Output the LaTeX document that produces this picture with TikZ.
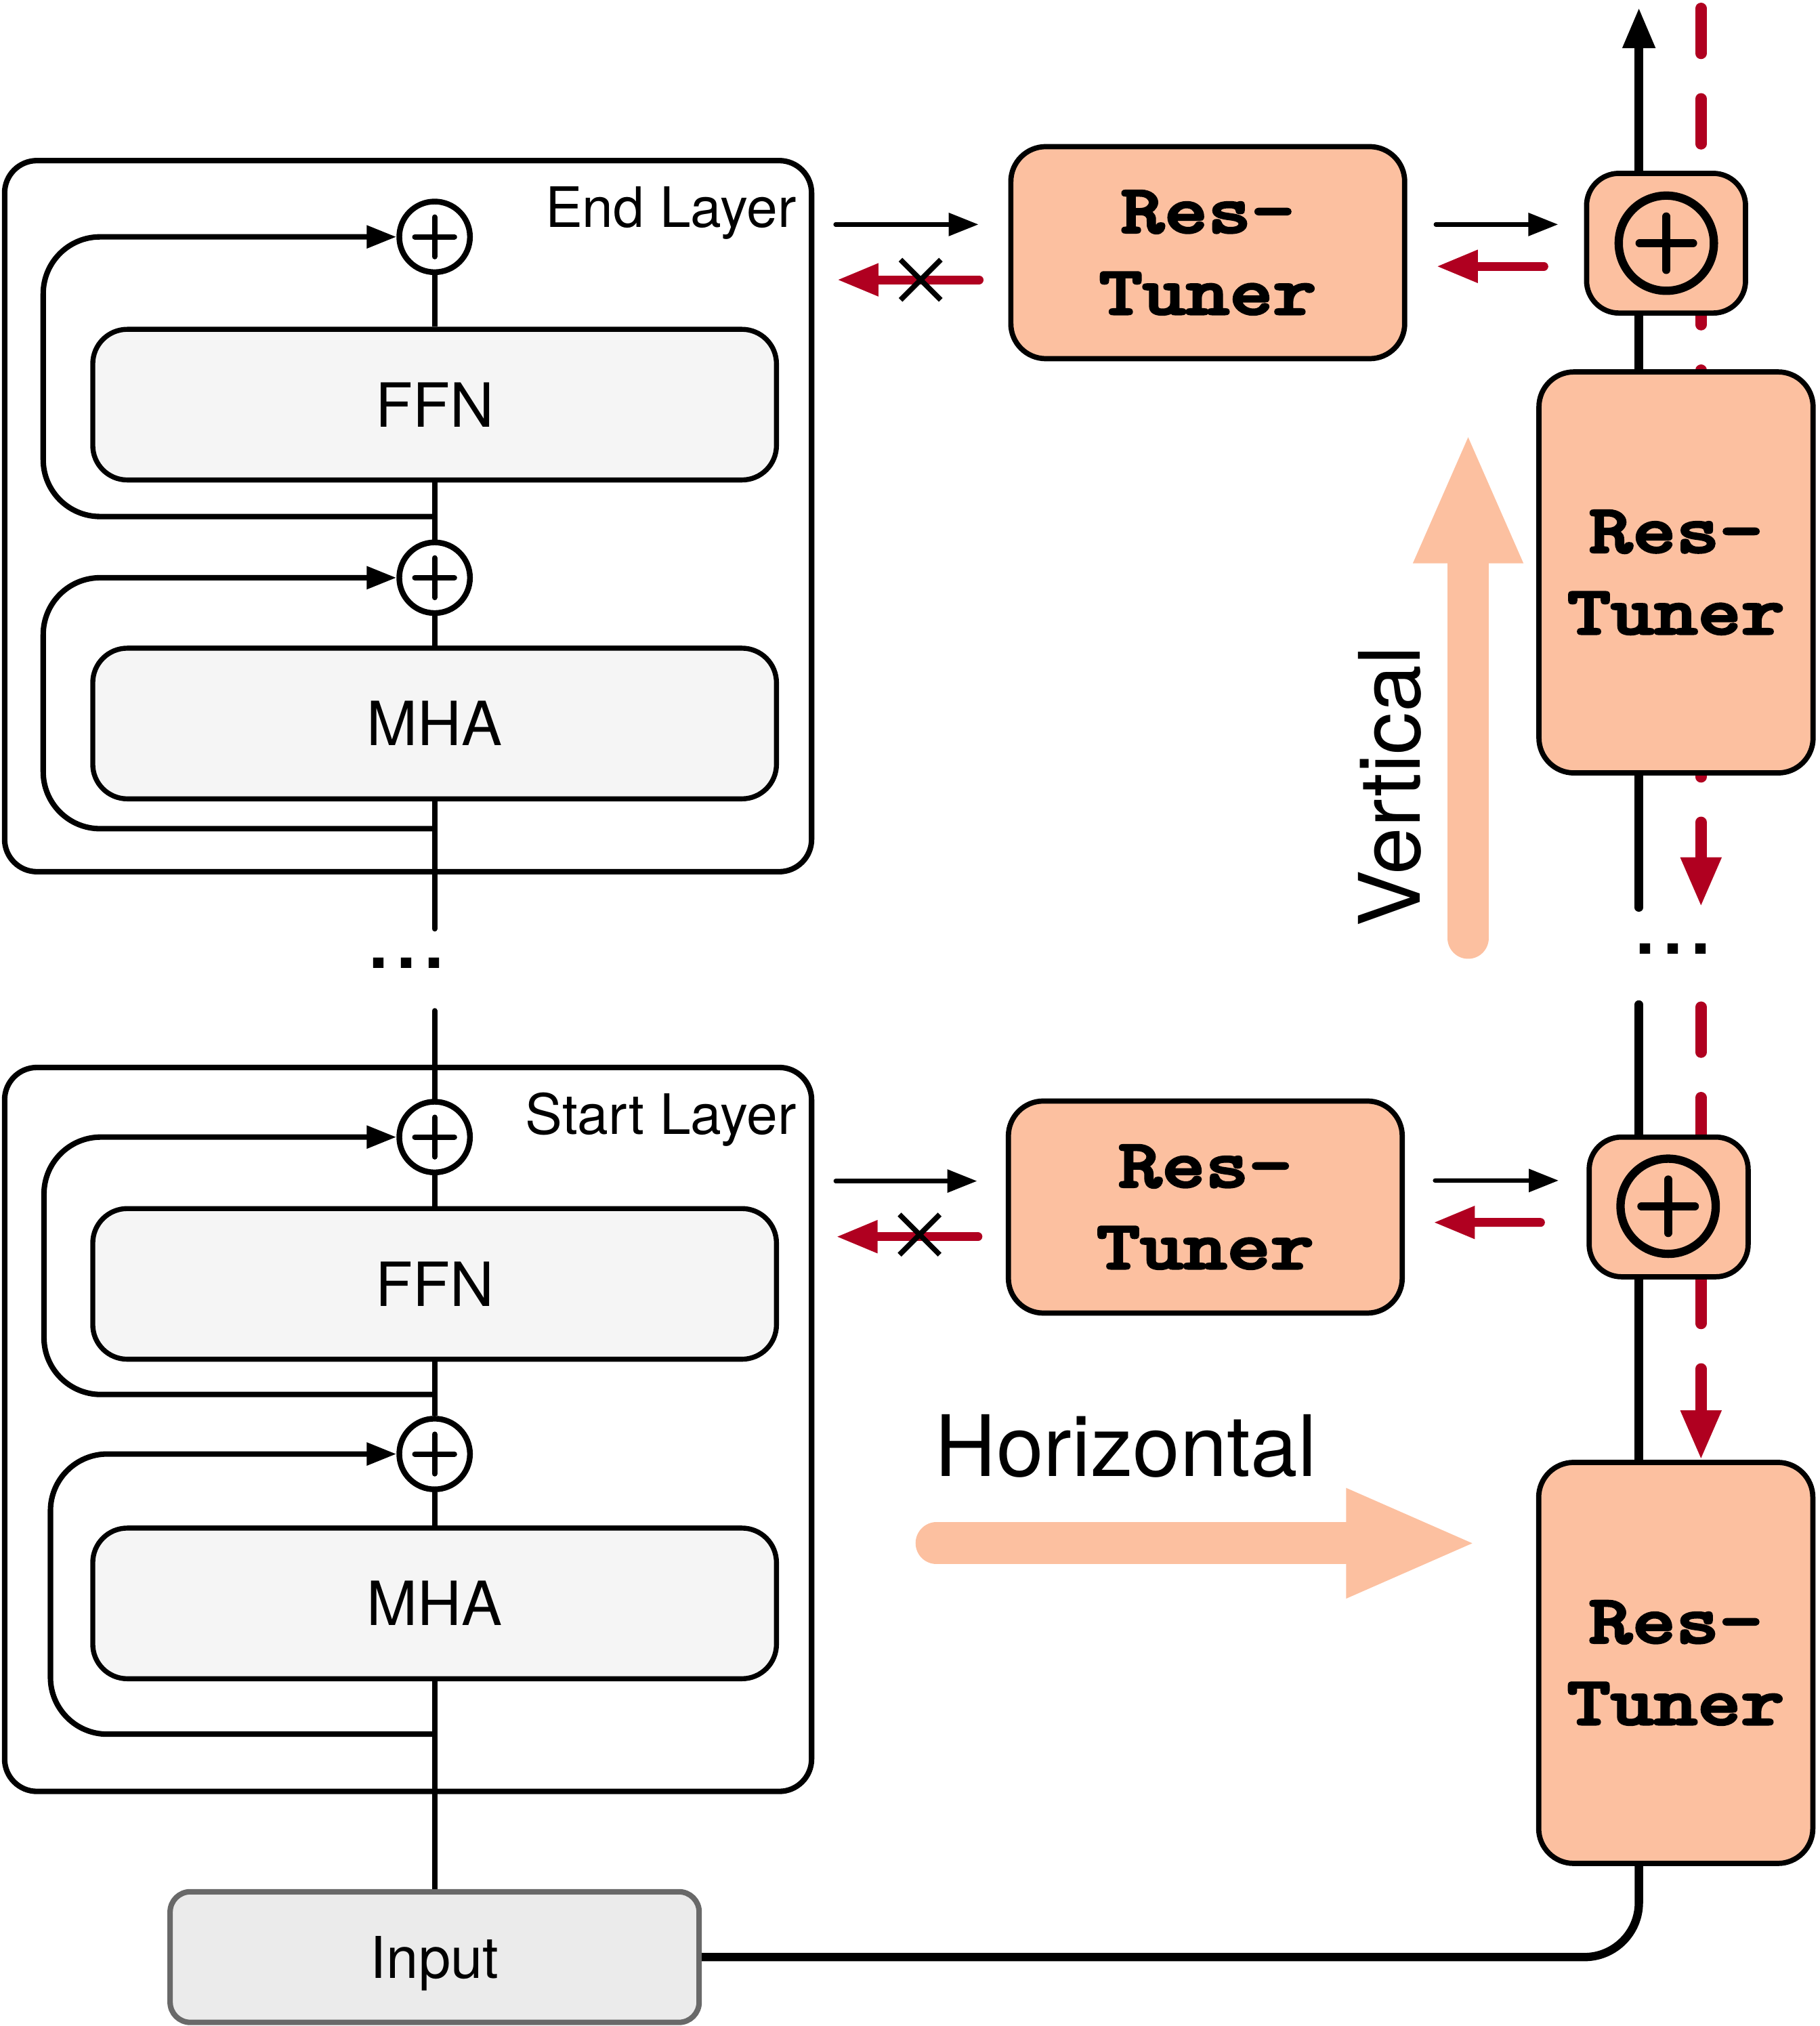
\documentclass[tikz,border=0pt]{standalone}
\usepackage{fontspec}
\setmainfont{TeX Gyre Heros}
\newfontfamily\rtfont[FakeBold=3]{lmmonolt10-bold.otf}
\usetikzlibrary{arrows.meta,shapes.misc,calc,backgrounds}

\definecolor{peach}{RGB}{252,192,160}
\definecolor{bwred}{RGB}{176,0,32}
\definecolor{blockfill}{RGB}{245,245,245}
\definecolor{inputfill}{RGB}{235,235,235}
\definecolor{inputedge}{RGB}{105,105,105}

\newcommand{\restuner}{\scalebox{1.2}[1]{Res-}\\\scalebox{1.2}[1]{Tuner}}

\tikzset{
  layerbox/.style={draw, line width=2.3pt, rounded corners=13.6pt, minimum width=339.1pt, inner sep=0pt},
  lbl/.style={inner sep=0pt, font=\fontsize{23.4}{28}\selectfont},
  block/.style={draw, line width=2.1pt, fill=blockfill, rounded corners=14.5pt, minimum width=287.3pt,
    minimum height=63.3pt, inner sep=0pt, font=\fontsize{25.6}{30}\selectfont},
  inputbox/.style={draw=inputedge, line width=2.3pt, fill=inputfill, rounded corners=8.5pt, minimum width=222.3pt,
    minimum height=54.9pt, inner sep=0pt, text depth=0pt, font=\fontsize{24.2}{29}\selectfont},
  addnode/.style={circle, draw, line width=2.4pt, fill=white, minimum size=29.7pt, inner sep=0pt,
    path picture={\draw[line width=2.3pt, line cap=round]
      ([xshift=-8.3pt]path picture bounding box.center) -- ([xshift=8.3pt]path picture bounding box.center)
      ([yshift=-8.3pt]path picture bounding box.center) -- ([yshift=8.3pt]path picture bounding box.center);}},
  tuner/.style={draw, line width=2.2pt, fill=peach, rounded corners=14.7pt, inner sep=0pt, align=center,
    font=\fontsize{29}{34.3}\selectfont\rtfont},
  sumbox/.style={draw, line width=2.2pt, fill=peach, rounded corners=13.6pt, minimum width=66.8pt,
    minimum height=58.7pt, inner sep=0pt},
  bigadd/.style={circle, draw, line width=3.5pt, minimum size=40pt, inner sep=0pt,
    path picture={\draw[line width=3.5pt, line cap=round]
      ([xshift=-11.2pt]path picture bounding box.center) -- ([xshift=11.2pt]path picture bounding box.center)
      ([yshift=-11.2pt]path picture bounding box.center) -- ([yshift=11.2pt]path picture bounding box.center);}},
  trunk/.style={line width=2.3pt},
  skip/.style={line width=2.3pt, rounded corners=23.9pt, -{Triangle[length=12.5pt,width=9.2pt]}},
  fwd/.style={line width=1.8pt, line cap=round, -{Triangle[length=12.5pt,width=9.4pt]}},
  bwd/.style={bwred, line width=3.7pt, line cap=round, -{Triangle[length=17.4pt,width=12.9pt]}},
  blocked/.style={cross out, draw, line width=2.2pt, minimum size=14.7pt, inner sep=0pt},
  spine/.style={line width=3.5pt},
  gradflow/.style={bwred, line width=4.7pt, line cap=round, dash pattern=on 19pt off 19pt,
    -{Triangle[length=20.8pt,width=16pt]}},
  bigarrow/.style={peach, line width=17.6pt, line cap=round, -{Triangle[length=55.4pt,width=41.8pt]}},
  dots/.style={inner sep=0pt, font=\fontsize{42}{42}\selectfont}
}

\begin{document}
\begin{tikzpicture}[x=0.0191cm, y=-0.0191cm]
  \useasboundingbox (0,0) rectangle (1407,1566.2);

  % backbone layers
  \node[layerbox, minimum height=298.8pt] (endL) at (315.5,399) {};
  \node[layerbox, minimum height=304.2pt] (startL) at (315.5,1105) {};
  \node[lbl, anchor=base east] (endT) at (616,175.8) {End Layer};
  \node[lbl, anchor=base east] (startT) at (616,876.8) {Start Layer};

  \node[block] (ffnA) at (336,312.8) {FFN};
  \node[block] (mhaA) at (336,559.3) {MHA};
  \node[block] (ffnB) at (336,992.5) {FFN};
  \node[block] (mhaB) at (336,1239.5) {MHA};
  \node[addnode] (addA1) at (336,183.1) {};
  \node[addnode] (addA2) at (336,446.6) {};
  \node[addnode] (addB1) at (336,879) {};
  \node[addnode] (addB2) at (336,1124) {};
  \node[inputbox] (input) at (336,1512.9) {Input};
  \node[dots] (dotsL) at (314.3,744.5) {...};

  \coordinate (tapA1) at (336,399.3);
  \coordinate (tapA2) at (336,640.6);
  \coordinate (tapB1) at (336,1078);
  \coordinate (tapB2) at (336,1340.6);
  \coordinate (cutA) at (336,718);
  \coordinate (cutB) at (336,781.4);

  \draw[trunk] (input.north) -- (mhaB.south);
  \draw[trunk] (mhaB.north) -- (addB2.south);
  \draw[trunk] (addB2.north) -- (ffnB.south);
  \draw[trunk] (ffnB.north) -- (addB1.south);
  \draw[trunk, line cap=round] (addB1.north) -- (cutB);
  \draw[trunk, line cap=round] (mhaA.south) -- (cutA);
  \draw[trunk] (mhaA.north) -- (addA2.south);
  \draw[trunk] (addA2.north) -- (ffnA.south);
  \draw[trunk] (ffnA.north) -- (addA1.south);

  \draw[skip] (tapA1) -| (33.4,183.1) -- (addA1.west);
  \draw[skip] (tapA2) -| (33.4,446.6) -- (addA2.west);
  \draw[skip] (tapB1) -| (34,879) -- (addB1.west);
  \draw[skip] (tapB2) -| (39,1124) -- (addB2.west);

  % tuner side
  \node[tuner, minimum width=165.5pt, minimum height=89.1pt] (rtA) at (933.7,195.3) {\restuner};
  \node[tuner, minimum width=165.5pt, minimum height=89.1pt] (rtB) at (931.8,933.1) {\restuner};
  \node[tuner, minimum width=115.2pt, minimum height=168.5pt] (rtV) at (1295.7,442.5) {\restuner};
  \node[tuner, minimum width=115.2pt, minimum height=168.5pt] (rtH) at (1295.5,1285.5) {\restuner};
  \node[sumbox] (sumA) at (1288,188) {};
  \node[sumbox] (sumB) at (1290,933) {};
  \node[bigadd] (sumAc) at (1288.2,188) {};
  \node[bigadd] (sumBc) at (1289.6,932.5) {};
  \node[dots] (dotsR) at (1293.5,733.5) {...};

  \coordinate (spx) at (1267,0);
  \coordinate (redx) at (1315,0);
  \coordinate (outA) at (1267,6);
  \coordinate (gapA) at (1267,701.6);
  \coordinate (gapB) at (1267,776.5);

  \begin{scope}[on background layer]
    \draw[gradflow] (1315,6.4) -- (1315,701);
    \draw[gradflow] (1315,778.5) -- (rtH.north -| redx);
  \end{scope}

  \draw[spine, rounded corners=22.9pt] (input.east) -| (rtH.south -| spx);
  \draw[spine] (rtH.north -| spx) -- (sumB.south -| spx);
  \draw[spine, line cap=round] (sumB.north -| spx) -- (gapB);
  \draw[spine, line cap=round] (rtV.south -| spx) -- (gapA);
  \draw[spine] (rtV.north -| spx) -- (sumA.south -| spx);
  \draw[spine, -{Triangle[length=17pt,width=13pt]}] (sumA.north -| spx) -- (outA);

  % forward and backward flows
  \draw[fwd] ([shift={(-133.5,-21.8)}]rtA.west) -- ([shift={(-23,-21.8)}]rtA.west);
  \draw[bwd] ([shift={(-22.5,21)}]rtA.west) -- ([shift={(-132.3,21)}]rtA.west);
  \node[blocked] (xA) at ($(rtA.west)+(-67.7,21)$) {};
  \draw[fwd] ([shift={(22,-21.8)}]rtA.east) -- ([shift={(-20,-14.5)}]sumA.west);
  \draw[bwd] ([shift={(-31,17.9)}]sumA.west) -- ([shift={(22.5,10.6)}]rtA.east);

  \draw[fwd] ([shift={(-131.5,-20.1)}]rtB.west) -- ([shift={(-22.2,-20.1)}]rtB.west);
  \draw[bwd] ([shift={(-21.5,22.9)}]rtB.west) -- ([shift={(-131.1,22.9)}]rtB.west);
  \node[blocked] (xB) at ($(rtB.west)+(-66.6,21.3)$) {};
  \draw[fwd] ([shift={(23.3,-20.5)}]rtB.east) -- ([shift={(-21.6,-20.4)}]sumB.west);
  \draw[bwd] ([shift={(-35.6,12)}]sumB.west) -- ([shift={(22.1,11.9)}]rtB.east);

  % directions
  \coordinate (vFrom) at (1135,725);
  \coordinate (vTo) at (1135,333.6);
  \coordinate (hFrom) at (724,1193);
  \coordinate (hTo) at (1142.6,1193);
  \draw[bigarrow] (vFrom) -- (vTo);
  \draw[bigarrow] (hFrom) -- (hTo);
  \node[rotate=90, anchor=base, inner sep=0pt, font=\fontsize{35.6}{40}\selectfont] (vText) at (1098,608) {Vertical};
  \node[anchor=base, inner sep=0pt, font=\fontsize{35.6}{40}\selectfont] (hText) at (870.5,1141.5) {Horizontal};
\end{tikzpicture}
\end{document}
